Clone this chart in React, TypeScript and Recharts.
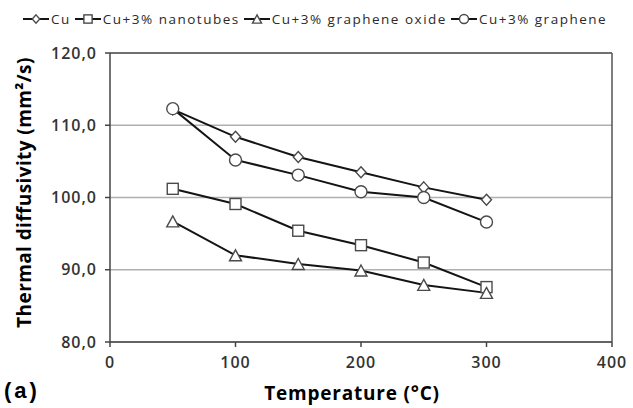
import React from 'react';
import { LineChart, Line, XAxis, YAxis, ReferenceLine, CartesianGrid } from 'recharts';

const temperatures = [50, 100, 150, 200, 250, 300];
const cu = [112.2, 108.4, 105.6, 103.5, 101.4, 99.7];
const nanotubes = [101.2, 99.1, 95.4, 93.4, 91.0, 87.6];
const grapheneOxide = [96.7, 92.0, 90.8, 89.9, 87.9, 86.8];
const graphene = [112.3, 105.2, 103.1, 100.8, 100.0, 96.6];
const xTicks = [0, 100, 200, 300, 400];
const yTicks = [80, 90, 100, 110, 120];

const seriesNames = ['Cu', 'Cu+3% nanotubes', 'Cu+3% graphene oxide', 'Cu+3% graphene'];
const seriesKeys = ['cu', 'nt', 'go', 'gr'];
const seriesShapes = ['diamond', 'square', 'triangle', 'circle'];

const data = temperatures.map((t, i) => ({
  t,
  cu: cu[i],
  nt: nanotubes[i],
  go: grapheneOxide[i],
  gr: graphene[i],
}));

const MARK_STROKE = '#4a4a4a';
const LINE_STROKE = '#141414';
const FONT = '"Open Sans", "DejaVu Sans", sans-serif';

function Marker({ shape, cx, cy, s = 1 }: { shape: string; cx: number; cy: number; s?: number }) {
  const common = { fill: '#fff', stroke: MARK_STROKE, strokeWidth: 1.4 };
  if (shape === 'diamond') {
    const w = 5 * s, h = 5.5 * s;
    return <polygon points={`${cx},${cy - h} ${cx + w},${cy} ${cx},${cy + h} ${cx - w},${cy}`} {...common} />;
  }
  if (shape === 'square') {
    const h = 5.5 * s;
    return <rect x={cx - h} y={cy - h} width={2 * h} height={2 * h} {...common} />;
  }
  if (shape === 'triangle') {
    const w = 6 * s, h = 5.5 * s;
    return <polygon points={`${cx},${cy - h} ${cx + w},${cy + h} ${cx - w},${cy + h}`} {...common} />;
  }
  return <circle cx={cx} cy={cy} r={6 * s} {...common} />;
}

const makeDot = (shape: string, name: string) => (props: any) => {
  const { cx, cy, index } = props;
  if (cx == null || cy == null) return <g key={`${name}-${index}`} />;
  return (
    <g key={`${name}-${index}`}>
      <Marker shape={shape} cx={cx} cy={cy} />
    </g>
  );
};

const fmt = (v: number) => v.toFixed(1).replace('.', ',');

const YLabel = (props: any) => {
  const vb = props.viewBox || { x: 0, y: 53, width: 110, height: 289 };
  const cx = 24;
  const cy = vb.y + vb.height / 2 - 5;
  return (
    <text
      x={cx}
      y={cy}
      transform={`rotate(-90 ${cx} ${cy})`}
      textAnchor="middle"
      dominantBaseline="central"
      fontFamily={FONT}
      fontWeight={700}
      fontSize={19}
      letterSpacing={0.4}
      fill="#000"
    >
      Thermal diffusivity (mm²/s)
    </text>
  );
};

const Legend = () => (
  <div
    style={{
      position: 'absolute',
      left: 22,
      top: 9,
      display: 'flex',
      alignItems: 'center',
      fontFamily: FONT,
      fontSize: 13.5,
      letterSpacing: 1.5,
      color: '#2a2a2a',
      whiteSpace: 'nowrap',
      lineHeight: '20px',
    }}
  >
    {seriesNames.map((n, i) => (
      <div key={n} style={{ display: 'flex', alignItems: 'center', marginRight: 3 }}>
        <svg width={28} height={20} style={{ marginRight: 1 }}>
          <line x1={1} y1={10} x2={27} y2={10} stroke={LINE_STROKE} strokeWidth={2} />
          <Marker shape={seriesShapes[i]} cx={14} cy={10} s={0.75} />
        </svg>
        <span>{n}</span>
      </div>
    ))}
  </div>
);

export default function App() {
  return (
    <div style={{ position: 'absolute', left: 0, top: 0, width: 633, height: 408, background: '#fff' }}>
      <LineChart width={633} height={408} data={data} margin={{ top: 53, right: 21, bottom: 0, left: 0 }}>
        <CartesianGrid horizontal vertical={false} stroke="#b0b0b0" strokeWidth={1.5} />
        <XAxis
          dataKey="t"
          type="number"
          domain={[0, 400]}
          ticks={xTicks}
          height={66}
          stroke="#444"
          strokeWidth={1.5}
          tickSize={5}
          tickMargin={10}
          tick={{ fill: '#333', fontSize: 16, fontFamily: FONT, fontWeight: 600, letterSpacing: 1 }}
          label={{
            value: 'Temperature (°C)',
            position: 'insideBottom',
            offset: 8,
            dx: -9,
            style: { fill: '#000', fontSize: 19, fontWeight: 700, fontFamily: FONT, letterSpacing: 0.8 },
          }}
        />
        <YAxis
          type="number"
          domain={[80, 120]}
          ticks={yTicks}
          width={110}
          stroke="#444"
          strokeWidth={1.5}
          tickSize={5}
          tickMargin={8}
          tickFormatter={fmt}
          tick={{ fill: '#333', fontSize: 16, fontFamily: FONT, fontWeight: 600, letterSpacing: 1 }}
          label={<YLabel />}
        />
        <ReferenceLine y={120} stroke="#555" strokeWidth={1.5} />
        <ReferenceLine x={400} stroke="#555" strokeWidth={1.5} />
        {seriesKeys.map((k, i) => (
          <Line
            key={k}
            dataKey={k}
            name={seriesNames[i]}
            stroke={LINE_STROKE}
            strokeWidth={2}
            dot={makeDot(seriesShapes[i], k)}
            isAnimationActive={false}
          />
        ))}
      </LineChart>
      <Legend />
      <svg style={{ position: 'absolute', left: 0, top: 370 }} width={70} height={38}>
        <text
          x={4}
          y={28}
          fontFamily='"Liberation Sans", Arial, sans-serif'
          fontWeight={700}
          fontSize={22}
          letterSpacing={3}
          fill="#000"
        >
          (a)
        </text>
      </svg>
    </div>
  );
}
